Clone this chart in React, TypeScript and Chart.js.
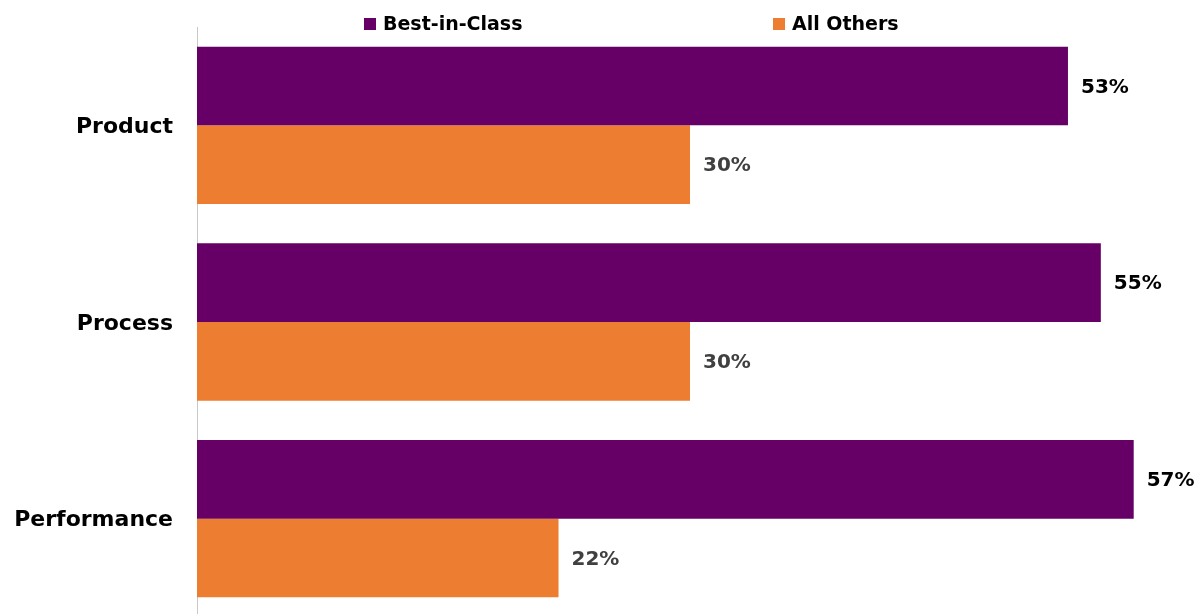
import React, { useEffect, useRef } from "react";
import { Chart, registerables } from "chart.js";

Chart.register(...registerables);

const categories = ["Product", "Process", "Performance"];
const seriesNames = ["Best-in-Class", "All Others"];
const bestInClass = [53, 55, 57];
const allOthers = [30, 30, 22];
const seriesColors = ["#660066", "#ED7D31"];
const valueLabelColors = ["#000000", "#404040"];
const axisMax = 60;

const FONT = "'DejaVu Sans', 'Liberation Sans', sans-serif";

const valueLabels = {
  id: "valueLabels",
  afterDatasetsDraw(chart: any) {
    const ctx = chart.ctx;
    ctx.save();
    ctx.font = `bold 20px ${FONT}`;
    ctx.textAlign = "left";
    ctx.textBaseline = "middle";
    chart.data.datasets.forEach((ds: any, i: number) => {
      const meta = chart.getDatasetMeta(i);
      ctx.fillStyle = valueLabelColors[i];
      meta.data.forEach((bar: any, j: number) => {
        ctx.fillText(`${ds.data[j]}%`, bar.x + 13, bar.y + 1.5);
      });
    });
    ctx.restore();
  },
};

const customLegend = {
  id: "customLegend",
  afterDraw(chart: any) {
    const ctx = chart.ctx;
    const starts = [364, 773];
    const box = 12;
    const boxTop = 18;
    ctx.save();
    ctx.font = `bold 19px ${FONT}`;
    ctx.textAlign = "left";
    ctx.textBaseline = "middle";
    chart.data.datasets.forEach((ds: any, i: number) => {
      const x = starts[i];
      ctx.fillStyle = ds.backgroundColor;
      ctx.fillRect(x, boxTop, box, box);
      ctx.fillStyle = "#000000";
      ctx.fillText(ds.label, x + box + 7, boxTop + box / 2 + 1);
    });
    ctx.restore();
  },
};

export default function App() {
  const canvasRef = useRef<HTMLCanvasElement | null>(null);

  useEffect(() => {
    document.body.style.margin = "0";
    const canvas = canvasRef.current;
    if (!canvas) return;
    const chart = new Chart(canvas, {
      type: "bar",
      data: {
        labels: categories,
        datasets: [
          {
            label: seriesNames[0],
            data: bestInClass,
            backgroundColor: seriesColors[0],
            categoryPercentage: 0.8,
            barPercentage: 1.0,
          },
          {
            label: seriesNames[1],
            data: allOthers,
            backgroundColor: seriesColors[1],
            categoryPercentage: 0.8,
            barPercentage: 1.0,
          },
        ],
      },
      options: {
        indexAxis: "y",
        responsive: false,
        animation: false,
        layout: { padding: { top: 27, right: 19, bottom: 0, left: 0 } },
        plugins: {
          legend: { display: false },
          tooltip: { enabled: false },
        },
        scales: {
          x: {
            display: false,
            min: 0,
            max: axisMax,
          },
          y: {
            afterFit: (scale: any) => {
              scale.width = 197;
              scale.paddingTop = 0;
              scale.paddingBottom = 0;
            },
            grid: { display: false, drawTicks: false },
            border: { display: true, color: "#C8C8C8", width: 1 },
            ticks: {
              padding: 24,
              labelOffset: 2,
              color: "#000000",
              font: { family: FONT, size: 22, weight: "bold" },
            },
          },
        },
      },
      plugins: [valueLabels, customLegend],
    });
    return () => chart.destroy();
  }, []);

  return (
    <div style={{ width: 1202, height: 614, overflow: "hidden", background: "#ffffff" }}>
      <canvas ref={canvasRef} width={1202} height={617} style={{ display: "block" }} />
    </div>
  );
}
